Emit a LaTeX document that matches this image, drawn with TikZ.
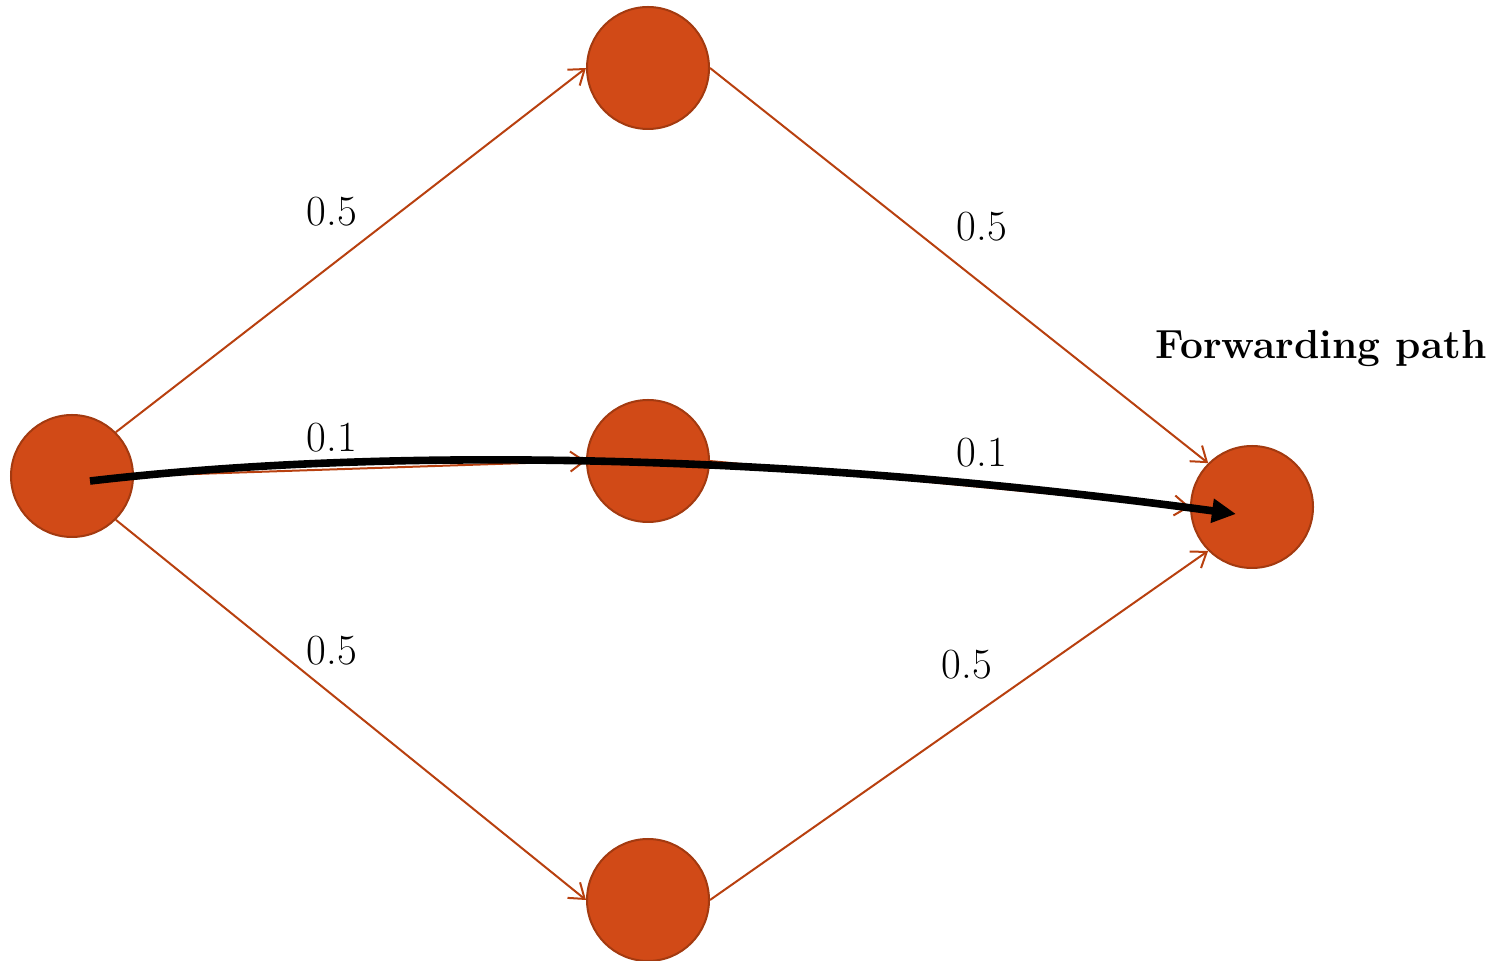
\documentclass[tikz,border=0pt]{standalone}
\usetikzlibrary{arrows.meta}
\definecolor{nodefill}{HTML}{D14A17}
\definecolor{nodeline}{HTML}{A33A10}
\definecolor{edgecol}{HTML}{B8400F}
\begin{document}
\begin{tikzpicture}[x=0.5pt,y=-0.5pt,
  vert/.style={circle,fill=nodefill,draw=nodeline,line width=1pt,minimum size=61pt,inner sep=0pt},
  edgeline/.style={draw=edgecol,line width=1pt,-{Straight Barb[length=7pt,width=10pt]}},
  wlabel/.style={font=\fontsize{21.5}{24}\selectfont,inner sep=0pt},
  fwd/.style={line width=3.8pt,-{Triangle[length=12pt,width=11.5pt]}}]
\useasboundingbox (0,0) rectangle (1511,961);
\node[vert] (L) at (72,476) {};
\node[vert] (T) at (648,68) {};
\node[vert] (M) at (648,461) {};
\node[vert] (B) at (648,900) {};
\node[vert] (R) at (1252,507) {};
\draw[edgeline] (L.north east) -- (T.west);
\draw[edgeline] (L.east) -- (M.west);
\draw[edgeline] (L.south east) -- (B.west);
\draw[edgeline] (T.east) -- (R.north west);
\draw[edgeline] (M.east) -- (R.west);
\draw[edgeline] (B.east) -- (R.south west);
\node[wlabel] (l1) at (332,212) {0.5};
\node[wlabel] (l2) at (332,438) {0.1};
\node[wlabel] (l3) at (332,651) {0.5};
\node[wlabel] (l4) at (982,227) {0.5};
\node[wlabel] (l5) at (982,453) {0.1};
\node[wlabel] (l6) at (967,665) {0.5};
\node[font=\fontsize{20.3}{24}\selectfont\bfseries,inner sep=0pt] (title) at (1321,348) {Forwarding path};
\coordinate (ps) at (90,481);
\coordinate (pe) at (1236,514);
\draw[fwd] (ps) .. controls (400,445) and (800,455) .. (pe);
\end{tikzpicture}
\end{document}
